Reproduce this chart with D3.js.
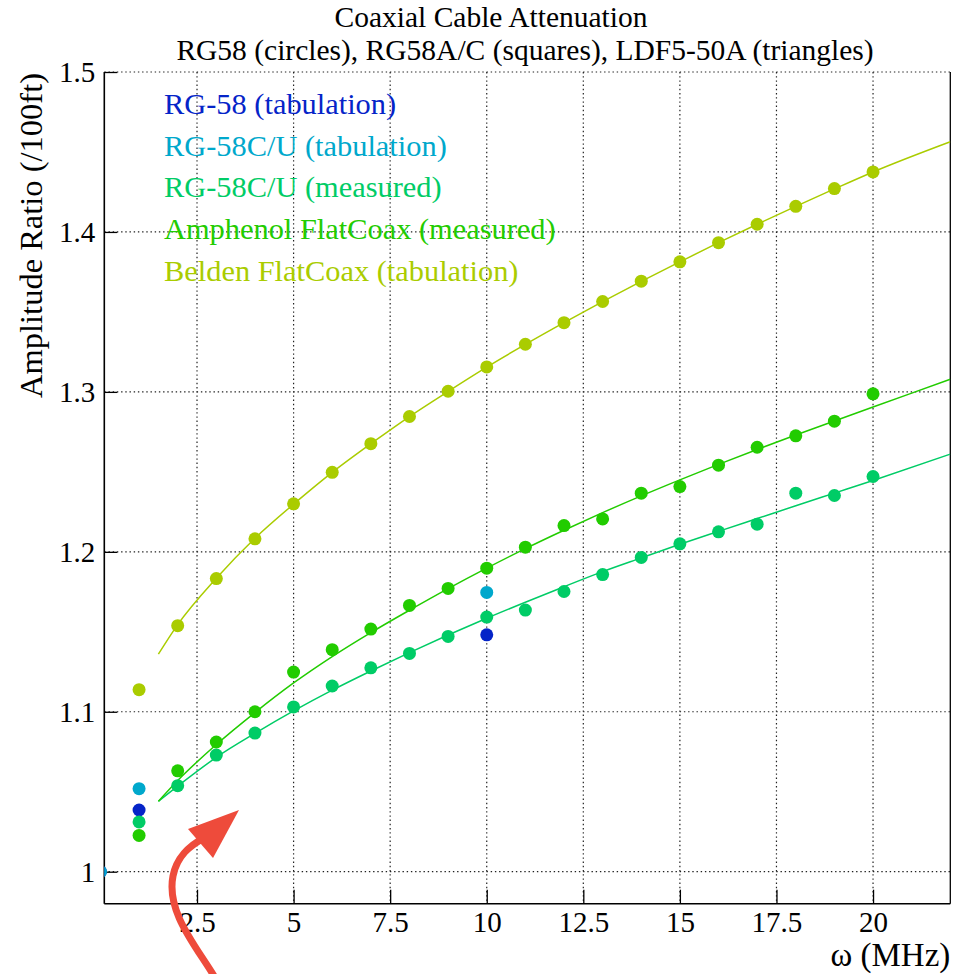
<!DOCTYPE html>
<html>
<head>
<meta charset="utf-8">
<script src="https://cdn.jsdelivr.net/npm/d3@7"></script>
<style>
  html, body { margin: 0; padding: 0; background: #fff; }
  svg { display: block; }
  svg text { font-family: "Liberation Serif", "Times New Roman", serif !important; }
</style>
</head>
<body>
<svg id="chart" width="971" height="974"></svg>
<script>
// ---------------- DATA ----------------
const titleLines = ["Coaxial Cable Attenuation",
                    "RG58 (circles), RG58A/C (squares), LDF5-50A (triangles)"];
const xAxisTitle = "\u03c9 (MHz)";
const yAxisTitle = "Amplitude Ratio (/100ft)";
const xTicks = [2.5, 5, 7.5, 10, 12.5, 15, 17.5, 20];
const yTicks = [1, 1.1, 1.2, 1.3, 1.4, 1.5];
const xDomain = [0.1, 22];
const yDomain = [0.98, 1.5];

const seriesNames = ["RG-58 (tabulation)", "RG-58C/U (tabulation)", "RG-58C/U (measured)",
                     "Amphenol FlatCoax (measured)", "Belden FlatCoax (tabulation)"];
const seriesColors = ["#0524c8", "#00a8cc", "#00cc66", "#22cc00", "#aacc00"];

const freqFull = [1, 2, 3, 4, 5, 6, 7, 8, 9, 10, 11, 12, 13, 14, 15, 16, 17, 18, 19, 20];

const rg58TabX = [0, 1, 10];
const rg58TabY = [1.0, 1.0386, 1.1481];

const rg58cuTabX = [0, 1, 10];
const rg58cuTabY = [1.0, 1.0519, 1.1746];

const rg58cuMeasY = [1.0311, 1.0538, 1.0729, 1.0867, 1.1030, 1.1161, 1.1275, 1.1365, 1.1471, 1.1592,
                     1.1636, 1.1752, 1.1858, 1.1965, 1.2050, 1.2125, 1.2173, 1.2367, 1.2352, 1.2471];
const amphenolY   = [1.0227, 1.0631, 1.0811, 1.1000, 1.1248, 1.1388, 1.1517, 1.1665, 1.1771, 1.1898,
                     1.2029, 1.2164, 1.2206, 1.2367, 1.2408, 1.2542, 1.2654, 1.2725, 1.2817, 1.2988];
const beldenY     = [1.1138, 1.1538, 1.1833, 1.2081, 1.2300, 1.2497, 1.2676, 1.2846, 1.3004, 1.3156,
                     1.3298, 1.3433, 1.3565, 1.3692, 1.3813, 1.3933, 1.4048, 1.4160, 1.4271, 1.4375];

// fitted curves
const fitX          = [1.5, 2, 3, 4, 5, 6, 7, 8, 9, 10, 11, 12, 13, 14, 15, 16, 17, 18, 19, 20, 22];
const rg58cuMeasFit = [1.0440, 1.0535, 1.0715, 1.0865, 1.1005, 1.1135, 1.1255, 1.1370, 1.1480, 1.1585,
                       1.1685, 1.1782, 1.1876, 1.1962, 1.2047, 1.2128, 1.2208, 1.2288, 1.2367, 1.2446, 1.2611];
const amphenolFit   = [1.0440, 1.0570, 1.0795, 1.0995, 1.1180, 1.1345, 1.1495, 1.1635, 1.1770, 1.1898,
                       1.2020, 1.2135, 1.2245, 1.2350, 1.2450, 1.2547, 1.2640, 1.2730, 1.2818, 1.2905, 1.3079];
const beldenFit     = [1.1360, 1.1545, 1.1835, 1.2085, 1.2298, 1.2497, 1.2676, 1.2846, 1.3003, 1.3155,
                       1.3297, 1.3433, 1.3564, 1.3691, 1.3813, 1.3933, 1.4048, 1.4160, 1.4269, 1.4375, 1.4564];

// ---------------- LAYOUT ----------------
const FONT = '"Liberation Serif", "Times New Roman", serif';
const svg = d3.select("#chart");
const plot = {left: 104.3, right: 950.3, top: 72, bottom: 903.7};

const x = d3.scaleLinear().domain(xDomain).range([plot.left, plot.right]);
const y = d3.scaleLinear().domain(yDomain).range([plot.bottom, plot.top]);

svg.append("defs").append("clipPath").attr("id", "clip")
  .append("rect")
  .attr("x", plot.left).attr("y", plot.top)
  .attr("width", plot.right - plot.left).attr("height", plot.bottom - plot.top);

// Grid
const grid = svg.append("g").attr("class", "grid");
grid.selectAll("line.v").data(xTicks).join("line")
  .attr("x1", d => x(d)).attr("x2", d => x(d))
  .attr("y1", plot.top).attr("y2", plot.bottom)
  .attr("stroke", "#222").attr("stroke-width", 1.2).attr("stroke-dasharray", "1.4,2.8");
grid.selectAll("line.h").data(yTicks).join("line")
  .attr("x1", plot.left).attr("x2", plot.right)
  .attr("y1", d => y(d)).attr("y2", d => y(d))
  .attr("stroke", "#222").attr("stroke-width", 1.2).attr("stroke-dasharray", "1.4,2.8");

// Axes (ROOT style: ticks inside)
const xAxis = d3.axisBottom(x).tickValues(xTicks).tickSize(0).tickFormat(d3.format("~g"));
const gx = svg.append("g").attr("transform", `translate(0,${plot.bottom})`).call(xAxis)
  .attr("font-family", null);
gx.select(".domain").remove();
gx.selectAll(".tick line").remove();
gx.selectAll(".tick").append("line")
  .attr("y1", 0).attr("y2", -14).attr("stroke", "#000").attr("stroke-width", 1.3);
gx.selectAll(".tick text")
  .attr("y", 28).attr("dy", 0)
  .attr("font-size", 29).attr("fill", "#000")
  .style("font-family", FONT);

const yAxis = d3.axisLeft(y).tickValues(yTicks).tickSize(0).tickFormat(d3.format("~g"));
const gy = svg.append("g").attr("transform", `translate(${plot.left},0)`).call(yAxis)
  .attr("font-family", null);
gy.select(".domain").remove();
gy.selectAll(".tick line").remove();
gy.selectAll(".tick").append("line")
  .attr("x1", 0).attr("x2", 13).attr("stroke", "#000").attr("stroke-width", 1.3);
gy.selectAll(".tick text")
  .attr("x", -9).attr("dy", "0.33em")
  .attr("font-size", 29).attr("fill", "#000")
  .style("font-family", FONT);

// Frame lines
svg.append("line").attr("x1", plot.left).attr("x2", plot.left)
  .attr("y1", plot.top).attr("y2", plot.bottom).attr("stroke", "#000").attr("stroke-width", 1.6);
svg.append("line").attr("x1", plot.left).attr("x2", plot.right)
  .attr("y1", plot.bottom).attr("y2", plot.bottom).attr("stroke", "#000").attr("stroke-width", 1.6);
svg.append("line").attr("x1", plot.right).attr("x2", plot.right)
  .attr("y1", plot.top).attr("y2", plot.bottom).attr("stroke", "#000").attr("stroke-width", 1.3);

// Fit curves
const lineGen = d3.line().x(d => x(d[0])).y(d => y(d[1])).curve(d3.curveMonotoneX);
const fits = [
  {vals: rg58cuMeasFit, color: seriesColors[2]},
  {vals: amphenolFit, color: seriesColors[3]},
  {vals: beldenFit, color: seriesColors[4]}
];
const gFits = svg.append("g").attr("clip-path", "url(#clip)");
fits.forEach(f => {
  gFits.append("path")
    .datum(fitX.map((xv, i) => [xv, f.vals[i]]))
    .attr("d", lineGen)
    .attr("fill", "none").attr("stroke", f.color).attr("stroke-width", 1.5);
});

// Points
const pointSets = [
  {xs: rg58TabX, ys: rg58TabY, color: seriesColors[0]},
  {xs: rg58cuTabX, ys: rg58cuTabY, color: seriesColors[1]},
  {xs: freqFull, ys: rg58cuMeasY, color: seriesColors[2]},
  {xs: freqFull, ys: amphenolY, color: seriesColors[3]},
  {xs: freqFull, ys: beldenY, color: seriesColors[4]}
];
const gPts = svg.append("g").attr("clip-path", "url(#clip)");
pointSets.forEach(s => {
  gPts.append("g").selectAll("circle")
    .data(s.xs.map((xv, i) => [xv, s.ys[i]]))
    .join("circle")
    .attr("cx", d => x(d[0])).attr("cy", d => y(d[1]))
    .attr("r", 6.5).attr("fill", s.color);
});

// Legend
const legend = svg.append("g");
seriesNames.forEach((name, i) => {
  legend.append("text")
    .attr("x", 164).attr("y", 114 + i * 41.7)
    .attr("font-size", 30.4).attr("fill", seriesColors[i])
    .style("font-family", FONT)
    .text(name);
});

// Titles
svg.append("text").attr("x", 491).attr("y", 26.5).attr("text-anchor", "middle")
  .attr("font-size", 29.5).attr("fill", "#000").style("font-family", FONT).text(titleLines[0]);
svg.append("text").attr("x", 525).attr("y", 59.5).attr("text-anchor", "middle")
  .attr("font-size", 29.5).attr("fill", "#000").style("font-family", FONT).text(titleLines[1]);

// Axis titles
svg.append("text").attr("x", plot.right).attr("y", 966).attr("text-anchor", "end")
  .attr("font-size", 33).attr("fill", "#000").style("font-family", FONT).text(xAxisTitle);
svg.append("text").attr("transform", `translate(42,${plot.top + 1}) rotate(-90)`)
  .attr("text-anchor", "end")
  .attr("font-size", 32.5).attr("fill", "#000").style("font-family", FONT).text(yAxisTitle);

// Red annotation arrow
const arrow = svg.append("g");
arrow.append("path")
  .attr("d", "M214,976 C196,946 166,912 173,876 C177,856 190,845 206,837")
  .attr("fill", "none").attr("stroke", "#ee4b3b").attr("stroke-width", 7)
  .attr("stroke-linecap", "butt");
arrow.append("path")
  .attr("d", "M188,829 L239,810 L213,858 Z")
  .attr("fill", "#ee4b3b");
</script>
</body>
</html>
